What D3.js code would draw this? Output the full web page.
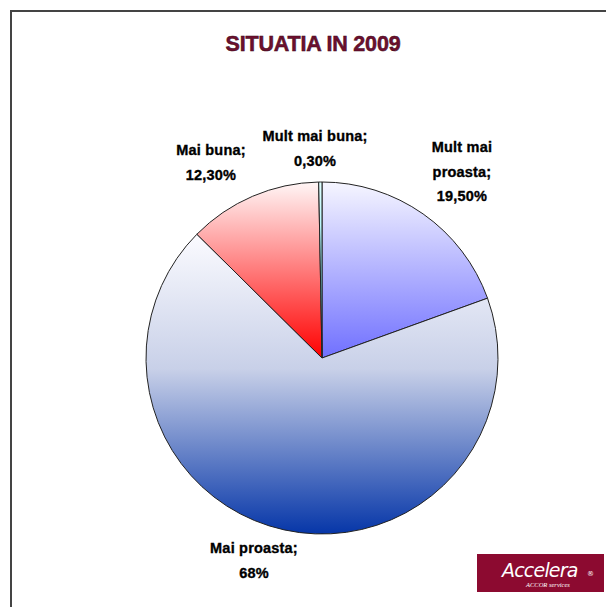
<!DOCTYPE html>
<html><head><meta charset="utf-8">
<script src="https://cdn.jsdelivr.net/npm/d3@7"></script>
<style>html,body{margin:0;padding:0;background:#fff;}svg{display:block;}</style>
</head><body>
<script>
const categories = ["Mult mai proasta", "Mai proasta", "Mai buna", "Mult mai buna"];
const values = [19.5, 68, 12.3, 0.3];
const valueLabels = ["19,50%", "68%", "12,30%", "0,30%"];
const title = "SITUATIA IN 2009";

const W = 606, H = 607;
const svg = d3.select("body").append("svg").attr("width", W).attr("height", H);
const defs = svg.append("defs");

// frame
svg.append("path").attr("d", `M11,${H} L11,11 L${W},11`).attr("fill", "none")
  .attr("stroke", "#444").attr("stroke-width", 2);

svg.append("text").attr("x", 313).attr("y", 51).attr("text-anchor", "middle")
  .attr("font-family", "Liberation Sans, Arial, sans-serif").attr("font-weight", "bold")
  .attr("font-size", 21.5).attr("fill", "#6e0f2e").attr("stroke", "#3a0a1a").attr("stroke-width", 0.5)
  .attr("letter-spacing", -0.2).text(title);

const grads = [
  ["#f6f6ff", "#7070ff"],
  ["#fbfbff", "#0636a8"],
  ["#fff6f6", "#ff0000"],
  ["#e0ffff", "#40d8e8"]
];
grads.forEach((g, i) => {
  const lg = defs.append("linearGradient").attr("id", "g" + i)
    .attr("x1", 0).attr("y1", 0).attr("x2", 0).attr("y2", 1);
  lg.append("stop").attr("offset", 0).attr("stop-color", g[0]);
  if (i === 1) lg.append("stop").attr("offset", 0.45).attr("stop-color", "#c8d0e8");
  lg.append("stop").attr("offset", 1).attr("stop-color", g[1]);
});

const cx = 322, cy = 358, r = 176;
const pie = d3.pie().sort(null).value(d => d)(values);
const arc = d3.arc().innerRadius(0).outerRadius(r);
const g = svg.append("g").attr("transform", `translate(${cx},${cy})`);
g.selectAll("path").data(pie).join("path")
  .attr("d", arc).attr("fill", (d, i) => `url(#g${i})`)
  .attr("stroke", "#222").attr("stroke-width", 1);

const labelPos = [
  {x: 462, y: 152, lines: ["Mult mai", "proasta;", valueLabels[0]]},
  {x: 254, y: 553, lines: ["Mai proasta;", valueLabels[1]]},
  {x: 211, y: 155, lines: ["Mai buna;", valueLabels[2]]},
  {x: 315, y: 141, lines: ["Mult mai buna;", valueLabels[3]]}
];
labelPos.forEach(p => {
  const t = svg.append("text").attr("text-anchor", "middle")
    .attr("font-family", "Liberation Sans, Arial, sans-serif").attr("font-weight", "bold")
    .attr("font-size", 14.5).attr("fill", "#000").attr("stroke", "#000").attr("stroke-width", 0.35)
    .attr("letter-spacing", 0.2);
  p.lines.forEach((l, k) => t.append("tspan").attr("x", p.x).attr("y", p.y + k * 24.5).text(l));
});

// logo
const lg = svg.append("g");
lg.append("rect").attr("x", 477).attr("y", 554).attr("width", 127).attr("height", 38).attr("fill", "#8c0a30");
lg.append("text").attr("x", 502).attr("y", 577).attr("font-family", "DejaVu Sans, sans-serif")
  .attr("font-style", "italic").attr("font-size", 19).attr("fill", "#fff").attr("letter-spacing", -0.8).text("Accelera");
lg.append("text").attr("x", 587).attr("y", 576).attr("font-family", "DejaVu Sans, sans-serif")
  .attr("font-size", 7).attr("fill", "#fff").text("®");
lg.append("text").attr("x", 526).attr("y", 587).attr("font-family", "Liberation Serif, serif")
  .attr("font-style", "italic").attr("font-size", 6.5).attr("fill", "#fff").text("ACCOR services");
</script>
</body></html>
